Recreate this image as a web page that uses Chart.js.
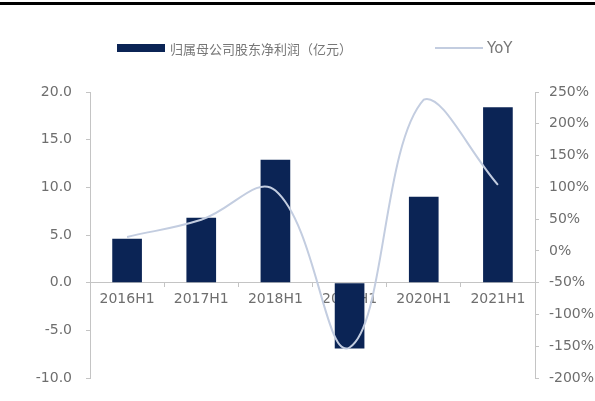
<!DOCTYPE html>
<html lang="zh-CN">
<head>
<meta charset="utf-8">
<title>归属母公司股东净利润</title>
<script src="https://cdn.jsdelivr.net/npm/chart.js@4.4.1/dist/chart.umd.min.js"></script>
<style>
  html, body { margin: 0; padding: 0; background: #fff; }
  #wrap { position: relative; width: 595px; height: 401px; overflow: hidden; }
  #topRule { position: absolute; left: 0; top: 2px; width: 595px; height: 3px; background: #000; }
  #chart { position: absolute; left: 0; top: 0; }
  #legend { position: absolute; top: 38px; left: 0; width: 595px; height: 20px; }
  .item { position: absolute; top: 0; height: 20px; display: flex; align-items: center; color: #777; }
  .item .box { display: inline-block; width: 48px; margin-right: 5px; }
  .item .txt { white-space: nowrap; }
  .cjk { font: 13px "Noto Sans CJK SC", sans-serif; }
  .latin { font: 15px "DejaVu Sans", sans-serif; margin-left: -1px; }
</style>
</head>
<body>
<div id="wrap">
  <div id="topRule"></div>
  <canvas id="chart" width="595" height="401"></canvas>
  <div id="legend"></div>
</div>
<script>
// 半年度数据
const periods = ['2016H1', '2017H1', '2018H1', '2019H1', '2020H1', '2021H1'];
const netProfit = [4.6, 6.8, 12.9, -6.9, 9.0, 18.4];   // 亿元
const yoy = [22, 49, 95, -152, 238, 104];               // %
const profitTicks = [-10, -5, 0, 5, 10, 15, 20];
const yoyTicks = [-200, -150, -100, -50, 0, 50, 100, 150, 200, 250];

const BAR_COLOR = '#0b2455';
const LINE_COLOR = '#c3cde0';
const TEXT_COLOR = '#6e6e6e';
const AXIS_COLOR = '#c4c4c4';

const tickFont = { family: '"DejaVu Sans", "Liberation Sans", sans-serif', size: 14 };

const chart = new Chart(document.getElementById('chart').getContext('2d'), {
  data: {
    labels: periods,
    datasets: [
      {
        type: 'line',
        label: 'YoY',
        data: yoy,
        yAxisID: 'yRight',
        borderColor: LINE_COLOR,
        borderWidth: 2,
        pointRadius: 0,
        tension: 0.4,
        fill: false,
        order: 0
      },
      {
        type: 'bar',
        label: '归属母公司股东净利润（亿元）',
        data: netProfit,
        yAxisID: 'yLeft',
        backgroundColor: BAR_COLOR,
        barPercentage: 0.4,
        categoryPercentage: 1,
        order: 1
      }
    ]
  },
  options: {
    responsive: false,
    animation: false,
    layout: { padding: { top: 92, bottom: 23, left: 0, right: 0 } },
    plugins: {
      legend: { display: false },
      tooltip: { enabled: false }
    },
    scales: {
      x: {
        type: 'category',
        position: { yLeft: 0 },
        offset: true,
        border: { color: AXIS_COLOR, width: 1 },
        grid: { offset: true, drawOnChartArea: false, tickLength: 4, color: AXIS_COLOR },
        ticks: { color: TEXT_COLOR, font: tickFont, padding: 4, maxRotation: 0 }
      },
      yLeft: {
        position: 'left',
        min: -10,
        max: 20,
        afterBuildTicks: (scale) => { scale.ticks = profitTicks.map(v => ({ value: v })); },
        afterFit: (scale) => { scale.width = 90; },
        border: { color: AXIS_COLOR, width: 1 },
        grid: { drawOnChartArea: false, tickLength: 4, color: AXIS_COLOR },
        ticks: {
          color: TEXT_COLOR,
          font: tickFont,
          padding: 14,
          callback: (v) => Number(v).toFixed(1)
        }
      },
      yRight: {
        position: 'right',
        min: -200,
        max: 250,
        afterBuildTicks: (scale) => { scale.ticks = yoyTicks.map(v => ({ value: v })); },
        afterFit: (scale) => { scale.width = 60; },
        border: { color: AXIS_COLOR, width: 1 },
        grid: { drawOnChartArea: false, tickLength: 4, color: AXIS_COLOR },
        ticks: {
          color: TEXT_COLOR,
          font: tickFont,
          padding: 10,
          callback: (v) => v + '%'
        }
      }
    }
  }
});

// 图例（按数据集生成）
function buildLegend() {
  const legend = document.getElementById('legend');
  const bar = chart.data.datasets[1];
  const line = chart.data.datasets[0];
  const items = [
    { ds: bar, left: 117, cls: 'cjk', box: 'height:8px;background:' + bar.backgroundColor },
    { ds: line, left: 435, cls: 'latin', box: 'height:0;border-top:2px solid ' + line.borderColor }
  ];
  items.forEach(it => {
    const el = document.createElement('div');
    el.className = 'item';
    el.style.left = it.left + 'px';
    const box = document.createElement('span');
    box.className = 'box';
    box.style.cssText = it.box;
    const txt = document.createElement('span');
    txt.className = 'txt ' + it.cls;
    txt.textContent = it.ds.label;
    el.appendChild(box);
    el.appendChild(txt);
    legend.appendChild(el);
  });
}
buildLegend();
</script>
</body>
</html>
